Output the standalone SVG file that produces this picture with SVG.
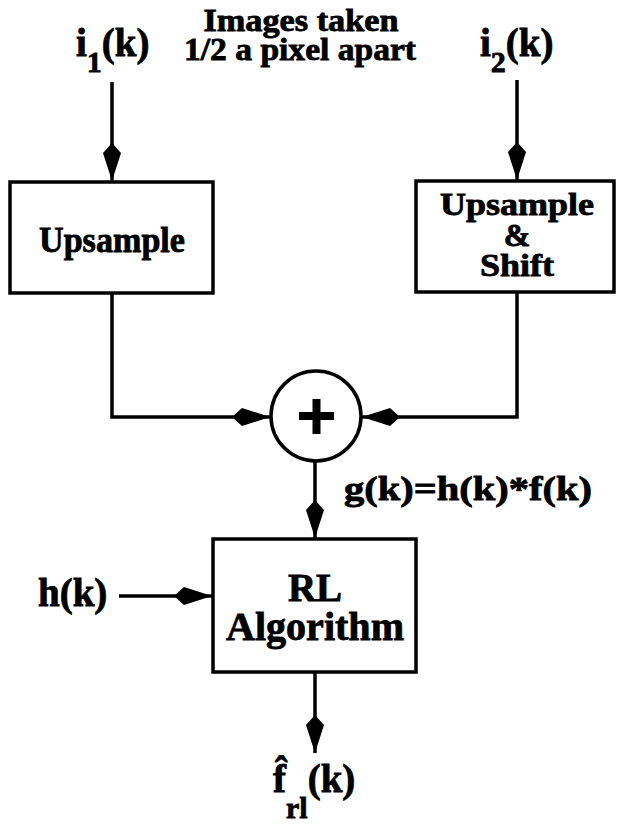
<svg xmlns="http://www.w3.org/2000/svg" width="617" height="826" viewBox="0 0 617 826">
<style>
.box{fill:#fff;stroke:#000;stroke-width:3.5}
.ln{fill:none;stroke:#000;stroke-width:3.5;marker-end:url(#kite)}
.t{font-family:'Liberation Serif','DejaVu Serif','Times New Roman',serif;font-weight:bold;fill:#000;stroke:#000;stroke-width:0.8}
.lbl{font-size:34px}
.big{font-size:39px}
.mid{text-anchor:middle}
</style>
<defs>
<marker id="kite" markerUnits="userSpaceOnUse" viewBox="-40 -11 42 22" refX="0" refY="0" markerWidth="42" markerHeight="22" orient="auto">
<path d="M0,0 L-28,-9 L-38,0 L-28,9 Z" fill="#000"/>
</marker>
</defs>
<rect width="617" height="826" fill="#fff"/>
<g id="connectors">
<path class="ln" d="M112,82 L112,181"/>
<path class="ln" d="M517,80 L517,180"/>
<path class="ln" d="M112,293 L112,417 L270,417"/>
<path class="ln" d="M517,292 L517,417 L362,417"/>
<path class="ln" d="M315,461 L315,538"/>
<path class="ln" d="M119,596 L212,596"/>
<path class="ln" d="M315,672 L315,753"/>
</g>
<g id="label-title">
<text class="t mid" x="301" y="31" font-size="31" textLength="195" lengthAdjust="spacingAndGlyphs">Images taken</text>
<text class="t mid" x="300" y="60" font-size="31" textLength="232" lengthAdjust="spacingAndGlyphs">1/2 a pixel apart</text>
</g>
<g id="input1">
<text x="76" y="56" class="t big">i<tspan font-size="30" dy="16">1</tspan><tspan dy="-16">(k)</tspan></text>
</g>
<g id="input2">
<text x="480" y="56" class="t big">i<tspan font-size="30" dy="16">2</tspan><tspan dy="-16">(k)</tspan></text>
</g>
<g id="upsample">
<rect class="box" x="10" y="182" width="203" height="111"/>
<text class="t mid" font-size="35" x="112" y="252" textLength="146" lengthAdjust="spacingAndGlyphs">Upsample</text>
</g>
<g id="upsample-shift">
<rect class="box" x="416" y="181" width="198" height="111"/>
<text class="t mid" font-size="32" x="517" y="215" textLength="154" lengthAdjust="spacingAndGlyphs">Upsample</text>
<text class="t mid" font-size="32" x="517" y="246">&amp;</text>
<text class="t mid" font-size="32" x="517" y="276" textLength="74" lengthAdjust="spacingAndGlyphs">Shift</text>
</g>
<g id="sum">
<circle cx="316" cy="416" r="45" fill="#fff" stroke="#000" stroke-width="3.5"/>
<path d="M299,416 H334 M316.5,399 V434" stroke="#000" stroke-width="8" fill="none"/>
</g>
<g id="label-g">
<text x="344" y="500" class="t lbl" textLength="248" lengthAdjust="spacingAndGlyphs">g(k)=h(k)*f(k)</text>
</g>
<g id="rl">
<rect class="box" x="213" y="539" width="203" height="133"/>
<text class="t mid big" x="315" y="601">RL</text>
<text class="t mid big" x="315" y="640" textLength="178" lengthAdjust="spacingAndGlyphs">Algorithm</text>
</g>
<g id="input-h">
<text x="38" y="606" class="t big">h(k)</text>
</g>
<g id="output">
<text x="273" y="792" class="t big">f̂<tspan font-size="30" dy="26">rl</tspan><tspan dy="-26">(k)</tspan></text>
</g>
</svg>
